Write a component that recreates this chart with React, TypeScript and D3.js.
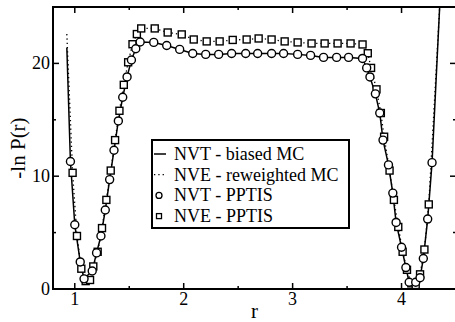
import React, { useRef, useEffect } from 'react';
import { select, scaleLinear, line, range } from 'd3';

// NVT - PPTIS (circles)
const nvtR = [0.96, 1.0, 1.05, 1.085, 1.16, 1.2, 1.24, 1.28, 1.32, 1.36, 1.4, 1.44, 1.48, 1.52, 1.56, 1.6,
    1.725, 1.844, 1.963, 2.083, 2.202, 2.321, 2.44, 2.569, 2.679, 2.807, 2.917, 3.046, 3.165, 3.284, 3.404, 3.514, 3.642,
    3.68, 3.71, 3.76, 3.8, 3.83, 3.88, 3.92, 3.95, 4.0, 4.04, 4.07, 4.13, 4.17, 4.2, 4.24, 4.28];
const nvtV = [11.3, 5.7, 2.4, 0.9, 1.6, 3.2, 4.7, 7.0, 9.7, 12.3, 14.9, 17.0, 18.8, 20.3, 21.3, 21.9,
    21.86, 21.59, 21.24, 20.88, 20.8, 20.8, 20.88, 20.88, 20.88, 20.88, 20.88, 20.8, 20.71, 20.53, 20.53, 20.53, 20.44,
    19.6, 18.8, 17.3, 15.6, 13.2, 11.0, 8.5, 5.9, 3.7, 1.9, 0.6, 0.6, 1.0, 2.7, 6.2, 11.2];

// NVE - PPTIS (squares)
const nveR = [0.98, 1.02, 1.06, 1.1, 1.14, 1.17, 1.21, 1.25, 1.29, 1.33, 1.37, 1.41, 1.45, 1.49, 1.53, 1.57, 1.61,
    1.734, 1.853, 1.982, 2.092, 2.211, 2.33, 2.45, 2.578, 2.688, 2.807, 2.927, 3.046, 3.174, 3.294, 3.413, 3.532, 3.642,
    3.69, 3.72, 3.77, 3.81, 3.84, 3.89, 3.93, 3.97, 4.01, 4.05, 4.09, 4.13, 4.17, 4.21, 4.25];
const nveV = [10.3, 4.7, 1.8, 0.7, 0.8, 2.0, 3.3, 5.4, 7.9, 10.5, 13.2, 15.8, 18.1, 20.1, 21.7, 22.6, 23.1,
    23.1, 22.74, 22.57, 22.12, 21.95, 21.95, 22.08, 22.12, 22.21, 22.12, 21.95, 21.86, 21.77, 21.77, 21.77, 21.77, 21.68,
    20.9, 19.6, 17.7, 15.6, 13.5, 10.5, 7.9, 5.5, 3.3, 1.7, 0.5, 0.35, 1.3, 3.5, 7.5];

// curve ends beyond the marker range
const nvtEndsR = [0.927, 4.35];
const nvtEndsV = [21.4, 25.0];
const nveEndsR = [0.927, 4.35];
const nveEndsV = [22.6, 25.0];

const xTicks = [1, 2, 3, 4];
const xMinor = [1.5, 2.5, 3.5];
const yTicks = [0, 10, 20];
const yMinor = [5, 15];

const legendItems = ['NVT - biased MC', 'NVE - reweighted MC', 'NVT - PPTIS', 'NVE - PPTIS'];

const W = 455;
const H = 322;
const FONT = 'Liberation Serif';

export default function App() {
    const svgRef: { current: SVGSVGElement | null } = useRef(null);

    useEffect(() => {
        const svg = select(svgRef.current);
        svg.selectAll('*').remove();

        const left = 53, right = 456, top = 7, bottom = 289;
        const x = scaleLinear().domain([0.8, 4.5]).range([left, right]);
        const y = scaleLinear().domain([0, 25]).range([bottom, top]);

        svg.append('defs').append('clipPath').attr('id', 'plotClip')
            .append('rect').attr('x', left).attr('y', top).attr('width', right - left).attr('height', bottom - top);

        const content = svg.append('g').attr('clip-path', 'url(#plotClip)');

        const nvtLine = [[nvtEndsR[0], nvtEndsV[0]], ...nvtR.map((r, i) => [r, nvtV[i]]), [nvtEndsR[1], nvtEndsV[1]]];
        const nveLine = [[nveEndsR[0], nveEndsV[0]], ...nveR.map((r, i) => [r, nveV[i]]), [nveEndsR[1], nveEndsV[1]]];

        const path: any = line()
            .x((d: any) => x(d[0]))
            .y((d: any) => y(d[1]));

        content.append('path').attr('d', path(nveLine)).attr('fill', 'none').attr('stroke', '#000')
            .attr('stroke-width', 1.3).attr('stroke-dasharray', '1.3,3');
        content.append('path').attr('d', path(nvtLine)).attr('fill', 'none').attr('stroke', '#000')
            .attr('stroke-width', 1.5);

        const sq = 7;
        content.selectAll('.sq')
            .data(range(nveR.length))
            .join('rect')
            .attr('class', 'sq')
            .attr('x', (i: number) => x(nveR[i]) - sq / 2)
            .attr('y', (i: number) => y(nveV[i]) - sq / 2)
            .attr('width', sq)
            .attr('height', sq)
            .attr('fill', '#fff')
            .attr('stroke', '#000')
            .attr('stroke-width', 1.4);

        content.selectAll('.ci')
            .data(range(nvtR.length))
            .join('circle')
            .attr('class', 'ci')
            .attr('cx', (i: number) => x(nvtR[i]))
            .attr('cy', (i: number) => y(nvtV[i]))
            .attr('r', 4)
            .attr('fill', '#fff')
            .attr('stroke', '#000')
            .attr('stroke-width', 1.4);

        // frame
        svg.append('rect').attr('x', left).attr('y', top).attr('width', right - left).attr('height', bottom - top)
            .attr('fill', 'none').attr('stroke', '#000').attr('stroke-width', 2);

        const ticks = svg.append('g').attr('stroke', '#000').attr('stroke-width', 1.5);
        xTicks.forEach((t) => {
            ticks.append('line').attr('x1', x(t)).attr('x2', x(t)).attr('y1', bottom).attr('y2', bottom - 6);
            ticks.append('line').attr('x1', x(t)).attr('x2', x(t)).attr('y1', top).attr('y2', top + 6);
        });
        xMinor.forEach((t) => {
            ticks.append('line').attr('x1', x(t)).attr('x2', x(t)).attr('y1', bottom).attr('y2', bottom - 3);
            ticks.append('line').attr('x1', x(t)).attr('x2', x(t)).attr('y1', top).attr('y2', top + 3);
        });
        yTicks.forEach((t) => {
            ticks.append('line').attr('x1', left).attr('x2', left + 6).attr('y1', y(t)).attr('y2', y(t));
            ticks.append('line').attr('x1', right).attr('x2', right - 6).attr('y1', y(t)).attr('y2', y(t));
        });
        yMinor.forEach((t) => {
            ticks.append('line').attr('x1', left).attr('x2', left + 3).attr('y1', y(t)).attr('y2', y(t));
            ticks.append('line').attr('x1', right).attr('x2', right - 3).attr('y1', y(t)).attr('y2', y(t));
        });

        const labels = svg.append('g').attr('font-family', FONT).attr('font-size', 18).attr('fill', '#000');
        xTicks.forEach((t) => {
            labels.append('text').attr('x', x(t)).attr('y', 305).attr('text-anchor', 'middle').text(t);
        });
        yTicks.forEach((t) => {
            labels.append('text').attr('x', 50).attr('y', y(t) + 6).attr('text-anchor', 'end').text(t);
        });

        labels.append('text').attr('x', (left + right) / 2).attr('y', 318).attr('text-anchor', 'middle')
            .attr('font-size', 21).text('r');
        labels.append('text')
            .attr('transform', `translate(25,${(top + bottom) / 2}) rotate(-90)`)
            .attr('text-anchor', 'middle').attr('font-size', 21).text('-ln P(r)');

        // legend
        const lg = svg.append('g');
        lg.append('rect').attr('x', 152).attr('y', 140).attr('width', 197).attr('height', 88)
            .attr('fill', '#fff').attr('stroke', '#000').attr('stroke-width', 2);
        const rowY = (i: number) => 154 + i * 20.7;
        lg.append('line').attr('x1', 154).attr('x2', 166).attr('y1', rowY(0)).attr('y2', rowY(0))
            .attr('stroke', '#000').attr('stroke-width', 1.5);
        lg.append('line').attr('x1', 154).attr('x2', 166).attr('y1', rowY(1)).attr('y2', rowY(1))
            .attr('stroke', '#000').attr('stroke-width', 1.3).attr('stroke-dasharray', '1.3,3');
        lg.append('circle').attr('cx', 159).attr('cy', rowY(2)).attr('r', 3)
            .attr('fill', '#fff').attr('stroke', '#000').attr('stroke-width', 1.3);
        lg.append('rect').attr('x', 156.5).attr('y', rowY(3) - 2.5).attr('width', 5).attr('height', 5)
            .attr('fill', '#fff').attr('stroke', '#000').attr('stroke-width', 1.3);
        lg.selectAll('.lt')
            .data(legendItems)
            .join('text')
            .attr('class', 'lt')
            .attr('x', 174)
            .attr('y', (d: string, i: number) => rowY(i) + 6)
            .attr('font-family', FONT)
            .attr('font-size', 18)
            .text((d: string) => d);
    }, []);

    return (
        <svg
            ref={svgRef}
            width={W}
            height={H}
            style={{ position: 'fixed', left: 0, top: 0, background: '#fff' }}
        />
    );
}
